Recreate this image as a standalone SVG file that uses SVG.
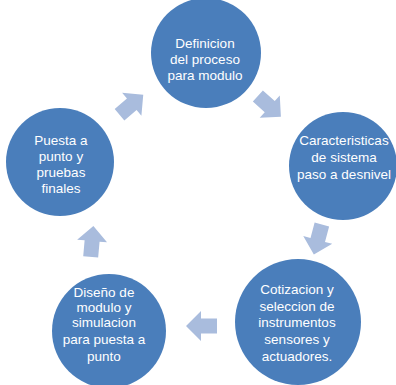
<svg xmlns="http://www.w3.org/2000/svg" width="396" height="385" viewBox="0 0 396 385">
<defs>
<style>
.node circle{fill:#4a7ebb;}
.node text{fill:#ffffff;font-family:"Liberation Sans",Arial,sans-serif;font-size:13.5px;text-anchor:middle;}
.arr{fill:#a9bcdd;}
</style>
<path id="arrow" d="M-15,-7.5 L1,-7.5 L1,-15 L16,0 L1,15 L1,7.5 L-15,7.5 Z"/>
</defs>
<rect width="396" height="385" fill="#ffffff"/>
<g id="connectors">
<use href="#arrow" class="arr" transform="translate(269,106) rotate(42)"/>
<use href="#arrow" class="arr" transform="translate(318,239) rotate(105)"/>
<use href="#arrow" class="arr" transform="translate(202,326) rotate(180)"/>
<use href="#arrow" class="arr" transform="translate(92,242) rotate(-85)"/>
<use href="#arrow" class="arr" transform="translate(131,105) rotate(-40)"/>
</g>
<g id="n1" class="node">
<circle cx="206" cy="53" r="55"/>
<text x="205" y="48">Definicion</text>
<text x="205" y="64">del proceso</text>
<text x="205" y="80">para modulo</text>
</g>
<g id="n2" class="node">
<circle cx="343" cy="166" r="54"/>
<text x="344" y="145">Caracteristicas</text>
<text x="344" y="162">de sistema</text>
<text x="344" y="179">paso a desnivel</text>
</g>
<g id="n3" class="node">
<circle cx="298" cy="322" r="63"/>
<text x="297" y="294">Cotizacion y</text>
<text x="297" y="311">seleccion de</text>
<text x="297" y="327">instrumentos</text>
<text x="297" y="344">sensores y</text>
<text x="297" y="361">actuadores.</text>
</g>
<g id="n4" class="node">
<circle cx="109" cy="331" r="57"/>
<text x="104" y="297">Diseño de</text>
<text x="104" y="312">modulo  y</text>
<text x="104" y="327">simulacion</text>
<text x="104" y="344">para puesta a</text>
<text x="104" y="361">punto</text>
</g>
<g id="n5" class="node">
<circle cx="60" cy="162" r="54"/>
<text x="61" y="145">Puesta a</text>
<text x="61" y="161">punto y</text>
<text x="61" y="177">pruebas</text>
<text x="61" y="193">finales</text>
</g>
</svg>
